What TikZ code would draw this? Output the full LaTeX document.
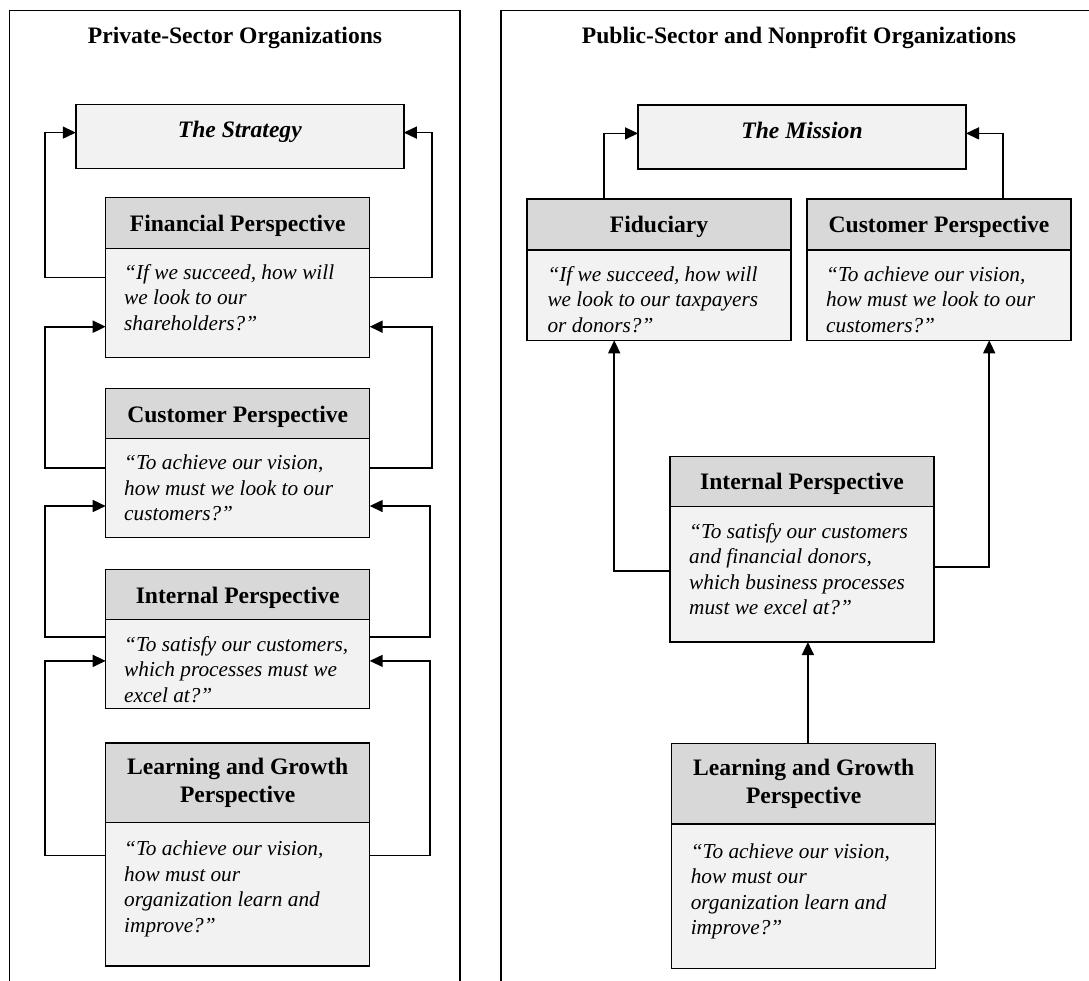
\documentclass[tikz,border=0pt]{standalone}
\usepackage{fontspec}
\setmainfont{Liberation Serif}
\usetikzlibrary{arrows.meta}
\definecolor{headgray}{HTML}{D8D8D8}
\definecolor{bodygray}{HTML}{F2F2F2}
\newcommand{\hdfont}{\fontsize{23.6pt}{28pt}\selectfont\bfseries}
\newcommand{\qtfont}{\fontsize{21.3pt}{25.5pt}\selectfont\itshape}
\newcommand{\qstrut}{\rule{0pt}{17pt}}
\tikzset{
  panel/.style={line width=1.3pt},
  box/.style={draw, line width=1.4pt, anchor=north west, inner sep=0pt,
    outer sep=0pt, minimum width=264pt},
  headbox/.style={box, fill=headgray, font=\hdfont, align=center},
  oneline/.style={text height=17pt, text depth=0pt},
  bodybox/.style={box, fill=bodygray},
  goalbox/.style={box, fill=bodygray, minimum width=328pt, minimum height=64pt,
    font={\hdfont\itshape}, text height=16pt, text depth=13.6pt},
  quote/.style={anchor=north west, inner sep=0pt, align=left, font=\qtfont},
  title/.style={font=\hdfont, anchor=base, inner sep=0pt},
  conn/.style={line width=1.5pt, -{Triangle[length=13pt,width=12pt]}},
  thickconn/.style={conn, line width=2pt},
}
\begin{document}
\begin{tikzpicture}[x=1pt,y=-1pt]
\useasboundingbox (0,0) rectangle (1089,980);

% panel frames (open at the bottom / right edge)
\draw[panel] (9.7,995) -- (9.7,10.4) -- (460,10.4) -- (460,995);
\draw[panel] (501,995) -- (501,10.4) -- (1100,10.4);

\node[title] (privtitle) at (235,43.4) {Private-Sector Organizations};
\node[title] (pubtitle) at (799,43.4) {Public-Sector and Nonprofit Organizations};

% ---------------- private sector ----------------
\node[goalbox] (strat) at (75.8,104.3) {The Strategy};

\node[headbox, oneline, minimum height=50.8pt] (finh) at (105.7,197.4) {Financial Perspective};
\node[bodybox, minimum height=109.3pt] (finb) at (105.7,248.2) {};
\node[quote] (finq) at (124,262) {\qstrut“If we succeed, how will\\we look to our\\shareholders?”};

\node[headbox, oneline, minimum height=50pt] (custh) at (105.7,388.5) {Customer Perspective};
\node[bodybox, minimum height=98.7pt] (custb) at (105.7,438.5) {};
\node[quote] (custq) at (124,452.5) {\qstrut“To achieve our vision,\\how must we look to our\\customers?”};

\node[headbox, oneline, minimum height=50pt] (inth) at (105.7,569.6) {Internal Perspective};
\node[bodybox, minimum height=88.9pt] (intb) at (105.7,619.6) {};
\node[quote] (intq) at (124,633.8) {\qstrut“To satisfy our customers,\\which processes must we\\excel at?”};

\node[headbox, minimum height=79.6pt] (learnh) at (105.7,742.9) {Learning and Growth\\Perspective};
\node[bodybox, minimum height=143.5pt] (learnb) at (105.7,822.5) {};
\node[quote] (learnq) at (124,838.5) {\qstrut“To achieve our vision,\\how must our\\organization learn and\\improve?”};

% feedback loops, each level to the one above
\draw[conn] ([yshift=-29.2pt]finb.north west) -- ++(-60.7,0) |- ([yshift=3.7pt]strat.west);
\draw[conn] ([yshift=-29.2pt]finb.north east) -- ++(62.5,0) |- ([yshift=3.7pt]strat.east);
\draw[thickconn] ([yshift=-29.9pt]custb.north west) -- ++(-60.7,0) |- ([yshift=-78.5pt]finb.north west);
\draw[thickconn] ([yshift=-29.9pt]custb.north east) -- ++(62.5,0) |- ([yshift=-78.5pt]finb.north east);
\draw[conn] ([yshift=-17.4pt]intb.north west) -- ++(-60.7,0) |- ([yshift=-67.5pt]custb.north west);
\draw[conn] ([yshift=-17.4pt]intb.north east) -- ++(60.5,0) |- ([yshift=-67.5pt]custb.north east);
\draw[conn] ([yshift=-33pt]learnb.north west) -- ++(-60.7,0) |- ([yshift=-41.3pt]intb.north west);
\draw[conn] ([yshift=-33pt]learnb.north east) -- ++(60.5,0) |- ([yshift=-41.3pt]intb.north east);

% ---------------- public sector ----------------
\node[goalbox] (miss) at (638,105) {The Mission};

\node[headbox, oneline, minimum height=51.1pt] (fidh) at (527,198.9) {Fiduciary};
\node[bodybox, minimum height=90.3pt] (fidb) at (527,250) {};
\node[quote] (fidq) at (547.3,264) {\qstrut“If we succeed, how will\\we look to our taxpayers\\or donors?”};

\node[headbox, oneline, minimum height=51.1pt] (custRh) at (807,198.9) {Customer Perspective};
\node[bodybox, minimum height=90.3pt] (custRb) at (807,250) {};
\node[quote] (custRq) at (826,264) {\qstrut“To achieve our vision,\\how must we look to our\\customers?”};

\node[headbox, oneline, minimum height=50.4pt] (intRh) at (670,456.2) {Internal Perspective};
\node[bodybox, minimum height=135.5pt] (intRb) at (670,506.6) {};
\node[quote] (intRq) at (689,520.8) {\qstrut“To satisfy our customers\\and financial donors,\\which business processes\\must we excel at?”};

\node[headbox, minimum height=80.2pt] (learnRh) at (671.7,743.6) {Learning and Growth\\Perspective};
\node[bodybox, minimum height=144.6pt] (learnRb) at (671.7,823.8) {};
\node[quote] (learnRq) at (690.6,840.8) {\qstrut“To achieve our vision,\\how must our\\organization learn and\\improve?”};

\draw[conn] ([xshift=77pt]fidh.north west) |- ([yshift=3.6pt]miss.west);
\draw[conn] ([xshift=196.2pt]custRh.north west) |- ([yshift=3.6pt]miss.east);
\draw[conn] ([yshift=-64.4pt]intRb.north west) -| ([xshift=87.2pt]fidb.south west);
\draw[conn] ([yshift=-60.2pt]intRb.north east) -| ([xshift=182.2pt]custRb.south west);
\draw[thickconn] ([xshift=4.2pt]learnRh.north) -- ([xshift=4.2pt]learnRh.north |- intRb.south);
\end{tikzpicture}
\end{document}
